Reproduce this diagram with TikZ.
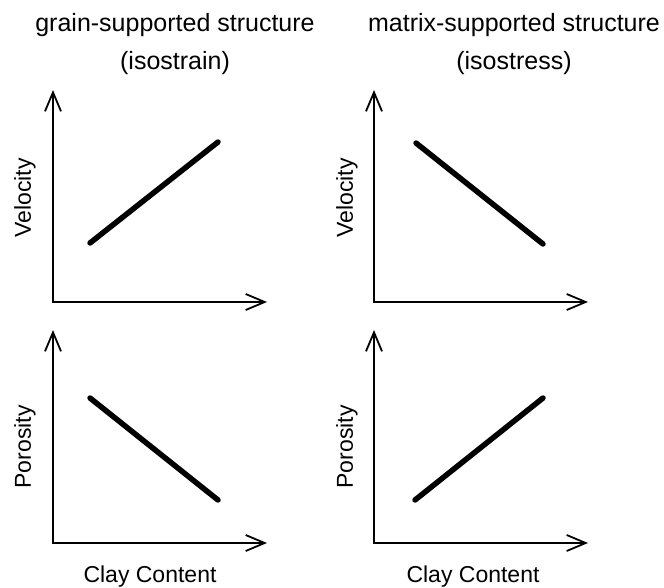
\documentclass[tikz,border=0pt]{standalone}
\usepackage{fontspec}
\setmainfont{Liberation Sans}
\usetikzlibrary{arrows.meta}
\tikzset{
    x=1pt, y=-1pt, % one unit is one pixel of the sheet, y runs downwards
    axis/.style={line width=1.8pt, {Straight Barb[length=19pt,width=16pt,line width=1.8pt]}-{Straight Barb[length=19pt,width=16pt,line width=1.8pt]}}, % the two arms of a plot
    trend/.style={line width=5.5pt, line cap=round}, % the thick data line
    heading/.style={font=\fontsize{25}{38}\selectfont, align=center, inner sep=0pt},
    qty/.style={font=\fontsize{23}{27}\selectfont, inner sep=0pt},
}
\begin{document}
\begin{tikzpicture}
    \useasboundingbox (0,0) rectangle (664,587);
    % headings
    \node[heading] (hgrain) at (175,44) {grain-supported structure\\(isostrain)};
    \node[heading] (hmatrix) at (514,44) {matrix-supported structure\\(isostress)};
    % axes
    \coordinate (o1) at (53,302);  \coordinate (y1) at (53,90);  \coordinate (x1) at (267,302);
    \coordinate (o2) at (374,302); \coordinate (y2) at (374,90); \coordinate (x2) at (588,302);
    \coordinate (o3) at (53,543);  \coordinate (y3) at (53,330); \coordinate (x3) at (267,543);
    \coordinate (o4) at (374,543); \coordinate (y4) at (374,330); \coordinate (x4) at (588,543);
    \draw[axis] (y1) -- (o1) -- (x1);
    \draw[axis] (y2) -- (o2) -- (x2);
    \draw[axis] (y3) -- (o3) -- (x3);
    \draw[axis] (y4) -- (o4) -- (x4);
    % trends
    \coordinate (a1) at (90,243);  \coordinate (b1) at (218,142);
    \coordinate (a2) at (416,143); \coordinate (b2) at (543,244);
    \coordinate (a3) at (90,398);  \coordinate (b3) at (218,500);
    \coordinate (a4) at (415,500); \coordinate (b4) at (543,398);
    \draw[trend] (a1) -- (b1);
    \draw[trend] (a2) -- (b2);
    \draw[trend] (a3) -- (b3);
    \draw[trend] (a4) -- (b4);
    % axis labels
    \node[qty, rotate=90] (vel1) at (25,198) {Velocity};
    \node[qty, rotate=90] (vel2) at (347,198) {Velocity};
    \node[qty, rotate=90] (por1) at (25,447) {Porosity};
    \node[qty, rotate=90] (por2) at (347,447) {Porosity};
    \node[qty] (clay1) at (150,577) {Clay Content};
    \node[qty] (clay2) at (473,577) {Clay Content};
\end{tikzpicture}
\end{document}
